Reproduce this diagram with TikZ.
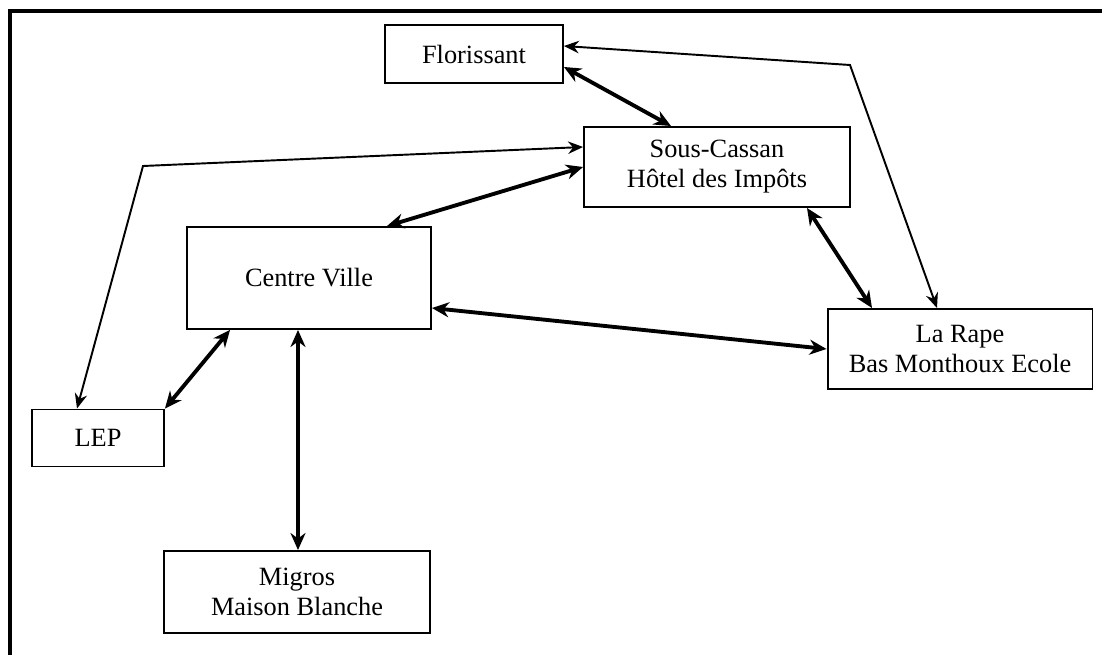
\documentclass[tikz,border=0pt]{standalone}
\usepackage{fontspec}
\setmainfont{Liberation Serif}
\usetikzlibrary{arrows.meta,calc}
\tikzset{
  stopbox/.style={draw=black, line width=1.1pt, fill=white, align=center,
    inner sep=2pt, font=\fontsize{15}{17}\selectfont},
  arc/.style={line width=1.1pt, {Stealth[length=3mm, width=2.5mm, inset=1mm]}-{Stealth[length=3mm, width=2.5mm, inset=1mm]}},
  bigArc/.style={line width=2.2pt, {Stealth[length=3.4mm, width=3mm, inset=1.1mm]}-{Stealth[length=3.4mm, width=3mm, inset=1.1mm]}},
  frameLine/.style={line width=2.3pt},
}

\begin{document}
\begin{tikzpicture}[x=0.02cm, y=-0.02cm]
    \useasboundingbox (0,0) rectangle (1102,655);
    \draw[frameLine] (10,655) -- (10,11) -- (1102,11);
    \node[stopbox, minimum width=3.56cm, minimum height=1.16cm] (flor) at (474,54) {Florissant};
    \node[stopbox, minimum width=5.32cm, minimum height=1.6cm] (sous) at (717,167) {Sous-Cassan\\ Hôtel des Impôts};
    \node[stopbox, minimum width=4.88cm, minimum height=2.04cm] (cv) at (309,278) {Centre Ville};
    \node[stopbox, minimum width=5.3cm, minimum height=1.6cm] (rape) at (960,349) {La Rape\\ Bas Monthoux Ecole};
    \node[stopbox, minimum width=2.64cm, minimum height=1.14cm] (lep) at (98,438) {LEP};
    \node[stopbox, minimum width=5.32cm, minimum height=1.64cm] (mig) at (297,592) {Migros\\ Maison Blanche};
    \coordinate (bendW) at (143,166);
    \coordinate (bendE) at (850,65);
    \draw[bigArc] ([yshift=-0.26cm]flor.east) -- ([xshift=-0.92cm]sous.north);
    \draw[arc] ([xshift=-0.42cm]lep.north) -- (bendW) -- ([yshift=0.4cm]sous.west);
    \draw[bigArc] (sous.west) -- ([xshift=1.56cm]cv.north);
    \draw[bigArc] ([xshift=1.8cm]sous.south) -- ([xshift=-1.76cm]rape.north);
    \draw[arc] ([yshift=0.16cm]flor.east) -- (bendE) -- ([xshift=-0.46cm]rape.north);
    \draw[bigArc] ([yshift=-0.6cm]cv.east) -- (rape.west);
    \draw[bigArc] ([xshift=-1.58cm]cv.south) -- (lep.north east);
    \draw[bigArc] ([xshift=-0.22cm]cv.south) -- ([xshift=-0.22cm]cv.south |- mig.north);
\end{tikzpicture}
\end{document}
